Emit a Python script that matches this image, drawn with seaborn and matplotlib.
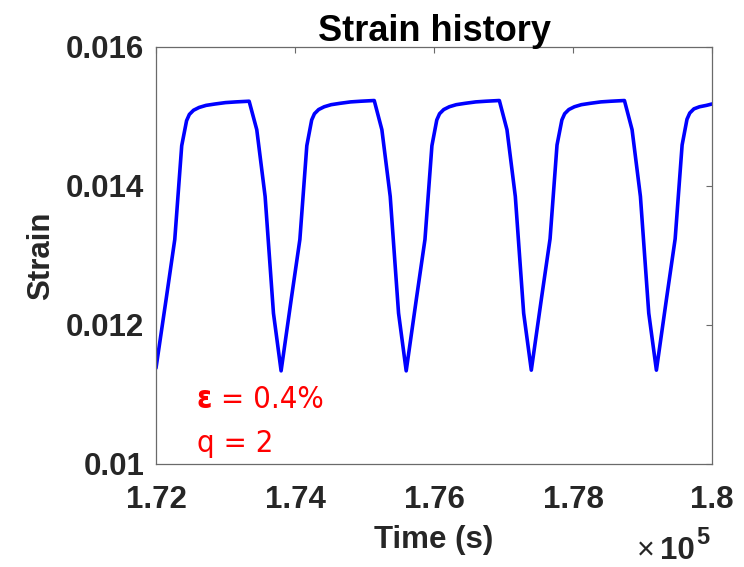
import numpy as np
import pandas as pd
import matplotlib
matplotlib.use("Agg")
import matplotlib.pyplot as plt
from matplotlib import font_manager
import seaborn as sns

# ---------------- data ----------------
time_s = [172000, 172150, 172270, 172370, 172440, 172480, 172540, 172620, 172720, 172850, 173000, 173150, 173340, 173450, 173570, 173690,
          173800, 173950, 174070, 174170, 174240, 174280, 174340, 174420, 174520, 174650, 174800, 174950, 175140, 175250, 175370, 175490,
          175600, 175750, 175870, 175970, 176040, 176080, 176140, 176220, 176320, 176450, 176600, 176750, 176940, 177050, 177170, 177290,
          177400, 177550, 177670, 177770, 177840, 177880, 177940, 178020, 178120, 178250, 178400, 178550, 178740, 178850, 178970, 179090,
          179200, 179350, 179470, 179570, 179640, 179680, 179740, 179820, 179920, 180000]

strain = [0.01138, 0.01240, 0.01323, 0.01458, 0.01494, 0.01503, 0.01509, 0.01513, 0.01516, 0.01518, 0.01520, 0.01521, 0.01522, 0.01481, 0.01385, 0.01217,
          0.01134, 0.01240, 0.01323, 0.01458, 0.01495, 0.01504, 0.01510, 0.01514, 0.01517, 0.01519, 0.01521, 0.01522, 0.01523, 0.01481, 0.01385, 0.01217,
          0.01134, 0.01240, 0.01323, 0.01458, 0.01495, 0.01504, 0.01510, 0.01514, 0.01517, 0.01519, 0.01521, 0.01522, 0.01523, 0.01481, 0.01385, 0.01217,
          0.01135, 0.01241, 0.01324, 0.01459, 0.01495, 0.01504, 0.01510, 0.01514, 0.01517, 0.01519, 0.01521, 0.01522, 0.01523, 0.01481, 0.01385, 0.01217,
          0.01135, 0.01241, 0.01324, 0.01459, 0.01496, 0.01505, 0.01511, 0.01514, 0.01516, 0.01518]

x_ticks = [172000, 174000, 176000, 178000, 180000]
x_tick_labels = ["1.72", "1.74", "1.76", "1.78", "1.8"]
y_ticks = [0.010, 0.012, 0.014, 0.016]
y_tick_labels = ["0.01", "0.012", "0.014", "0.016"]

title = "Strain history"
x_label = "Time (s)"
y_label = "Strain"
note_eps = "\u03b5"
note_eps_rest = " = 0.4%"
note_q = "q = 2"

df = pd.DataFrame({"Time (s)": time_s, "Strain": strain})

# ---------------- style ----------------
sns.set_style("white")
plt.rcParams["font.family"] = ["Liberation Sans", "DejaVu Sans"]

# narrow font for the red annotation, if one is installed
names = {f.name for f in font_manager.fontManager.ttflist}
note_kw = dict(family=["Liberation Sans", "DejaVu Sans"], size=23)
if "Liberation Sans Narrow" in names:
    note_kw = dict(family=["Liberation Sans Narrow", "DejaVu Sans"], size=25.5)
else:
    cond = [f for f in font_manager.fontManager.ttflist
            if f.name == "DejaVu Sans" and "ondensed" in str(f.stretch) + f.fname]
    if cond:
        note_kw = dict(family=["DejaVu Sans"], stretch="condensed", size=22.2)

text_col = "#262626"
fig = plt.figure(figsize=(7.44, 5.67), dpi=100)
W, H = 744, 567
ax_l, ax_r, ax_t, ax_b = 156, 712, 47, 464
ax = fig.add_axes([ax_l / W, 1 - ax_b / H, (ax_r - ax_l) / W, (ax_b - ax_t) / H])

sns.lineplot(data=df, x="Time (s)", y="Strain", ax=ax, color="#0000FF",
             linewidth=2.6, sort=False, estimator=None)

ax.set_xlim(172000, 180000)
ax.set_ylim(0.010, 0.016)
ax.set_xticks(x_ticks)
ax.set_xticklabels(x_tick_labels)
ax.set_yticks(y_ticks)
ax.set_yticklabels(y_tick_labels)

for sp in ax.spines.values():
    sp.set_visible(True)
    sp.set_color("#6a6a6a")
    sp.set_linewidth(0.9)

ax.tick_params(axis="both", which="major", direction="in", length=4.5, width=0.8,
               color="#6a6a6a", top=True, right=True, labelsize=22.5,
               labelcolor=text_col)
ax.tick_params(axis="x", pad=15)
ax.tick_params(axis="y", pad=8.5)
for lab in ax.get_xticklabels() + ax.get_yticklabels():
    lab.set_fontweight("bold")

ax.set_title(title, fontsize=26, fontweight="bold", color="black", pad=4)
ax.set_xlabel(x_label, fontsize=22.5, fontweight="bold", color=text_col)
ax.set_ylabel(y_label, fontsize=22.5, fontweight="bold", color=text_col)
ax.xaxis.set_label_coords(0.5, -0.146)
ax.yaxis.set_label_coords(-0.179, 0.5)

# annotation text
t1 = ax.text(0.073, 0.134, note_eps, transform=ax.transAxes, color="#FF0000",
             fontweight="bold", ha="left", va="baseline", **note_kw)
ax.annotate(note_eps_rest, xy=(1, 0), xycoords=t1, color="#FF0000",
            ha="left", va="bottom", **note_kw)
ax.text(0.073, 0.029, note_q, transform=ax.transAxes, color="#FF0000",
        ha="left", va="baseline", **note_kw)

# exponent (x 10^5)
fig.text(637 / W, 1 - 559 / H, "\u00d7", fontsize=22, color=text_col,
         ha="left", va="baseline")
fig.text(660 / W, 1 - 559 / H, "10", fontsize=22.5, fontweight="bold",
         color=text_col, ha="left", va="baseline")
fig.text(696 / W, 1 - 544 / H, "5", fontsize=17, fontweight="bold",
         color=text_col, ha="left", va="baseline")

fig.savefig("out.png", dpi=100)
